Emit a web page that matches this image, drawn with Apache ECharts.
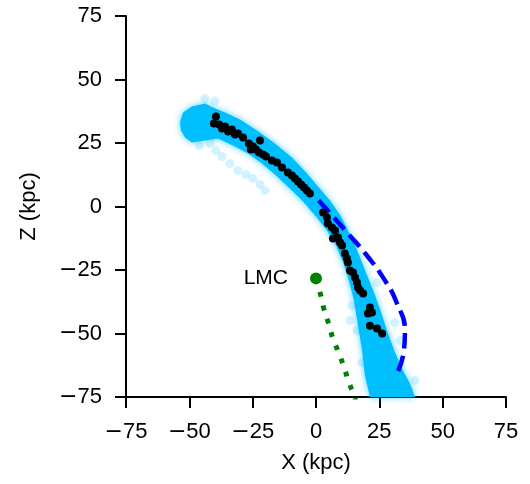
<!DOCTYPE html>
<html>
<head>
<meta charset="utf-8">
<script src="https://cdn.jsdelivr.net/npm/echarts@6/dist/echarts.min.js"></script>
<style>html,body{margin:0;padding:0;background:#fff}#c{width:530px;height:484px}</style>
</head>
<body>
<div id="c"></div>
<script>
// Axis ticks
var xTicks = [-75, -50, -25, 0, 25, 50, 75];
var zTicks = [-75, -50, -25, 0, 25, 50, 75];

// Simulated stream (dense cloud) outline, X and Z in kpc
var cloudX = [-53.7,-52.5,-49.0,-43.8,-40.7,-35.9,-30.0,-23.3,-16.2,-9.5,-3.9,0.8,5.5,9.9,13.4,16.6,19.7,22.9,25.7,28.0,31.2,34.3,37.1,39.1,
              21.3,19.3,18.2,16.6,15.0,13.0,10.7,7.9,4.3,0.0,-5.1,-10.3,-15.8,-21.3,-26.8,-32.8,-38.7,-43.8,-49.0,-51.7,-53.3];
var cloudZ = [33.1,37.0,39.4,40.6,39.0,37.0,34.3,29.9,24.8,19.3,13.4,7.9,2.4,-3.9,-11.0,-18.1,-26.0,-33.9,-41.7,-48.8,-57.5,-64.6,-69.7,-75.0,
              -75.0,-66.5,-56.7,-46.9,-37.0,-29.1,-22.0,-15.4,-9.4,-3.9,2.0,7.1,12.2,16.9,20.9,24.0,26.8,26.0,25.2,27.2,29.9];

// Sparse simulated particles outside the dense stream
var sparseX = [-41.8,-39.5,-37.1,-34.0,-30.8,-27.6,-24.9,-22.1,-20.1,-43.8,-40.0,14.2,13.4,16.2,18.2,31.2,33.2,39.1,24.0,-46.0];
var sparseZ = [24.8,22.0,19.7,16.9,14.2,12.6,11.0,8.7,6.3,42.5,41.5,-39.0,-44.9,-48.8,-61.4,-45.7,-52.8,-68.5,-30.0,24.0];

// Observed stars
var starX = [-39.5,-40.3,-38.3,-37.1,-35.9,-34.7,-33.2,-32.0,-30.8,-28.8,-26.5,-25.7,-24.9,-23.7,-22.1,-22.5,-20.9,-19.7,-17.4,-15.4,-13.4,-11.1,-9.5,-8.3,-7.1,-5.9,-4.7,-3.6,-2.4,
             2.8,4.3,4.7,6.3,7.5,6.7,8.7,9.5,10.3,11.4,12.2,12.6,13.4,14.6,15.4,16.2,16.6,17.4,18.6,21.3,20.5,22.1,21.3,24.1,26.1];
var starZ = [35.4,32.7,32.3,30.7,31.5,29.5,30.3,28.3,28.7,27.2,24.8,22.4,23.6,22.4,26.0,21.3,20.5,19.7,18.1,17.3,15.4,13.4,12.2,11.0,9.8,8.7,7.5,6.3,5.1,
             -2.4,-4.3,-6.7,-8.3,-9.4,-12.6,-12.2,-14.2,-15.4,-18.5,-20.5,-22.0,-25.2,-26.0,-28.0,-29.9,-31.9,-33.1,-34.3,-39.8,-42.1,-41.7,-46.9,-48.0,-50.0];

// Progenitor orbit (dashed)
var orbitX = [1.0,6.7,12.6,20.1,26.5,32.0,35.1,34.7,32.0];
var orbitZ = [2.4,-3.9,-10.6,-19.3,-28.0,-38.2,-48.8,-56.7,-65.7];

// LMC orbit (dotted)
var lmcOrbitX = [0.0,2.0,3.2,5.1,6.7,9.1,11.1,13.0,15.0,16.5];
var lmcOrbitZ = [-28.3,-35.4,-40.6,-46.5,-52.0,-57.9,-63.4,-69.3,-74.4,-80.0];

// LMC position
var lmcX = 0.0, lmcZ = -28.3, lmcName = 'LMC';

function zip(a, b) { return a.map(function (v, i) { return [v, b[i]]; }); }
function fmt(v) { return v < 0 ? '{m|\u2212}' + Math.abs(v) : String(v); }

var FONT = 'Liberation Sans, Arial, sans-serif';
var axisCommon = {
  type: 'value', min: -75, max: 75, interval: 25,
  nameLocation: 'middle',
  nameTextStyle: { fontFamily: FONT, fontSize: 22, color: '#000' },
  axisLine: { show: true, onZero: false, lineStyle: { color: '#000', width: 2 } },
  axisTick: { show: true, inside: false, length: 11, lineStyle: { color: '#000', width: 2 } },
  axisLabel: { margin: 24, fontFamily: FONT, fontSize: 22, color: '#000', formatter: fmt,
               rich: { m: { fontFamily: 'DejaVu Sans', fontSize: 22, color: '#000' } } },
  splitLine: { show: false }
};
var chart = echarts.init(document.getElementById('c'), null, { renderer: 'canvas' });
chart.setOption({
  animation: false,
  grid: { left: 126, right: 24, top: 16, bottom: 87 },
  xAxis: Object.assign({}, axisCommon, { name: 'X (kpc)', nameGap: 55 }),
  yAxis: Object.assign({}, axisCommon, { name: 'Z (kpc)', nameGap: 86 }),
  series: [
    {
      type: 'custom', z: 1, silent: true,
      data: [[0, 0]],
      renderItem: function (params, api) {
        var pts = cloudX.map(function (x, i) { return api.coord([x, cloudZ[i]]); });
        return {
          type: 'polygon',
          shape: { points: pts },
          style: { fill: 'rgb(0,191,255)', shadowBlur: 7, shadowColor: 'rgba(0,191,255,0.7)' }
        };
      }
    },
    {
      type: 'scatter', z: 2, symbolSize: 9, silent: true,
      itemStyle: { color: 'rgba(0,191,255,0.18)', opacity: 1 },
      data: zip(sparseX, sparseZ)
    },
    {
      type: 'line', z: 3, symbol: 'none', smooth: true, silent: true,
      lineStyle: { color: '#0000ff', width: 4.5, type: [16, 7], cap: 'butt', opacity: 1 },
      data: zip(orbitX, orbitZ)
    },
    {
      type: 'line', z: 3, symbol: 'none', smooth: true, silent: true, clip: true,
      lineStyle: { color: '#008000', width: 5, type: [5, 9], cap: 'butt', opacity: 1 },
      data: zip(lmcOrbitX, lmcOrbitZ)
    },
    {
      type: 'scatter', z: 4, symbolSize: 8, silent: true,
      itemStyle: { color: '#000', opacity: 1 },
      data: zip(starX, starZ)
    },
    {
      type: 'scatter', z: 5, symbolSize: 12, silent: true,
      itemStyle: { color: '#008000', opacity: 1 },
      label: { show: true, position: 'left', distance: 22, formatter: lmcName,
               fontFamily: FONT, fontSize: 21, color: '#000' },
      data: [[lmcX, lmcZ]]
    }
  ]
});
</script>
</body>
</html>
